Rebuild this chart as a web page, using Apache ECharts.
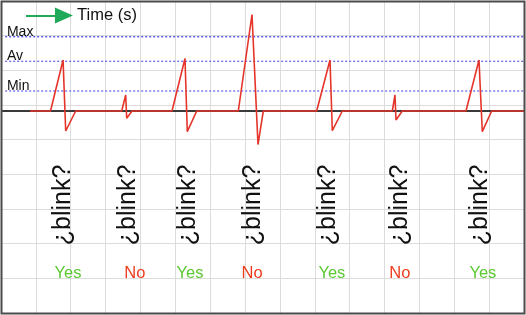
<!DOCTYPE html>
<html>
<head>
<meta charset="utf-8">
<script src="https://cdn.jsdelivr.net/npm/echarts@6/dist/echarts.min.js"></script>
<style>
html,body{margin:0;padding:0;background:#fff;}
#c{width:526px;height:315px;}
</style>
</head>
<body>
<div id="c"></div>
<script>
// Signal (time in s, amplitude in arbitrary units)
const signalTime = [0.83, 1.42, 1.78, 1.856, 2.142, 3.462, 3.576, 3.605, 3.757, 4.904, 5.277, 5.343, 5.613,
  6.806, 7.199, 7.371, 7.523, 9.054, 9.436, 9.502, 9.789, 11.223, 11.30, 11.329, 11.51, 13.336, 13.709, 13.804, 14.073, 15];
const signalValue = [0, 0, 5.1, -2.0, 0, 0, 1.6, -0.73, 0, 0, 5.25, -2.07, 0,
  0, 9.65, -3.35, 0, 0, 5.1, -1.97, 0, 0, 1.6, -0.9, 0, 0, 5.1, -2.07, 0, 0];
// Threshold levels
const levelNames = ['Max', 'Av', 'Min'];
const levelValues = [7.43, 4.97, 2.0];
// Blink annotations
const blinkTimes = [1.78, 3.64, 5.36, 7.23, 9.38, 11.44, 13.74];
const verdictTimes = [1.92, 3.84, 5.42, 7.20, 9.49, 11.44, 13.82];
const verdicts = ['Yes', 'No', 'Yes', 'No', 'Yes', 'No', 'Yes'];
const blinkText = '¿blink?';
const axisTitle = 'Time (s)';
const arrowTimes = [0.717, 2.065];

const FONT = "'Liberation Sans', Arial, sans-serif";
const chart = echarts.init(document.getElementById('c'), null, {renderer: 'canvas'});

const seriesList = [];
// baseline
seriesList.push({
  type: 'line', xAxisIndex: 0, yAxisIndex: 0, symbol: 'none', silent: true,
  data: [[0, 0], [15, 0]], lineStyle: {color: '#3a3a3a', width: 2}, z: 3
});
// levels
levelValues.forEach((v, i) => {
  seriesList.push({
    type: 'line', symbol: 'none', silent: true,
    data: [[0.12, v], [15, v]],
    lineStyle: {color: '#5a5ae6', width: i === 0 ? 1.5 : 1.2, type: [2, 2]}, z: 2
  });
});
// level labels
seriesList.push({
  type: 'scatter', symbolSize: 0, silent: true, itemStyle: {opacity: 1},
  data: levelNames.map((n, i) => ({value: [0.17, levelValues[i]], name: n})),
  label: {show: true, position: [0, 2], align: 'left', verticalAlign: 'bottom',
    formatter: p => p.name, fontFamily: FONT, fontSize: 14, color: '#111'},
  z: 5
});
// signal
seriesList.push({
  type: 'line', symbol: 'none', silent: true,
  data: signalTime.map((t, i) => [t, signalValue[i]]),
  lineStyle: {color: '#e5352b', width: 1.6}, z: 4
});
// blink labels
seriesList.push({
  type: 'scatter', symbolSize: 0, silent: true, itemStyle: {opacity: 1},
  data: blinkTimes.map(t => [t, -9.4]),
  label: {show: true, position: 'inside', rotate: 90, formatter: blinkText,
    fontFamily: FONT, fontSize: 25, color: '#111'},
  z: 5
});
// verdicts
seriesList.push({
  type: 'scatter', symbolSize: 0, silent: true, itemStyle: {opacity: 1},
  data: verdicts.map((v, i) => ({value: [verdictTimes[i], -16.2], name: v,
    label: {color: v === 'No' ? '#ee3b1e' : '#5cc832'}})),
  label: {show: true, position: 'inside', formatter: p => p.name,
    fontFamily: FONT, fontSize: 16.5},
  z: 5
});
// time arrow + title
seriesList.push({
  type: 'scatter', symbolSize: 0, silent: true, itemStyle: {opacity: 1},
  data: [[2.18, 9.55]],
  label: {show: true, position: [0, 0], align: 'left', verticalAlign: 'middle',
    formatter: axisTitle, fontFamily: FONT, fontSize: 16.5, color: '#111'},
  markLine: {
    silent: true, symbol: ['none', 'triangle'], symbolSize: [16, 18],
    label: {show: false},
    lineStyle: {color: '#1faa5a', width: 2, type: 'solid', opacity: 1},
    data: [[{coord: [arrowTimes[0], 9.55]}, {coord: [arrowTimes[1] - 0.26, 9.55]}]]
  },
  z: 5
});

chart.setOption({
  animation: false,
  backgroundColor: '#ffffff',
  grid: {left: 1, top: 1, width: 523, height: 312, show: false},
  xAxis: [{type: 'value', min: 0, max: 15, interval: 1,
    axisLine: {show: false}, axisTick: {show: false}, axisLabel: {show: false},
    splitLine: {show: true, lineStyle: {color: '#dcdcdc', width: 1}}}],
  yAxis: [
    {type: 'value', min: -20.2, max: 11, axisLine: {show: false}, axisTick: {show: false},
      axisLabel: {show: false}, splitLine: {show: false}},
    {type: 'value', min: 0, max: 9, interval: 1, axisLine: {show: false}, axisTick: {show: false},
      axisLabel: {show: false}, splitLine: {show: true, lineStyle: {color: '#dcdcdc', width: 1}}}
  ],
  graphic: [{type: 'rect', z: 100, silent: true,
    shape: {x: 1.5, y: 1.5, width: 523, height: 312},
    style: {fill: null, stroke: '#4a4a4a', lineWidth: 2}}],
  series: seriesList
});
</script>
</body>
</html>
